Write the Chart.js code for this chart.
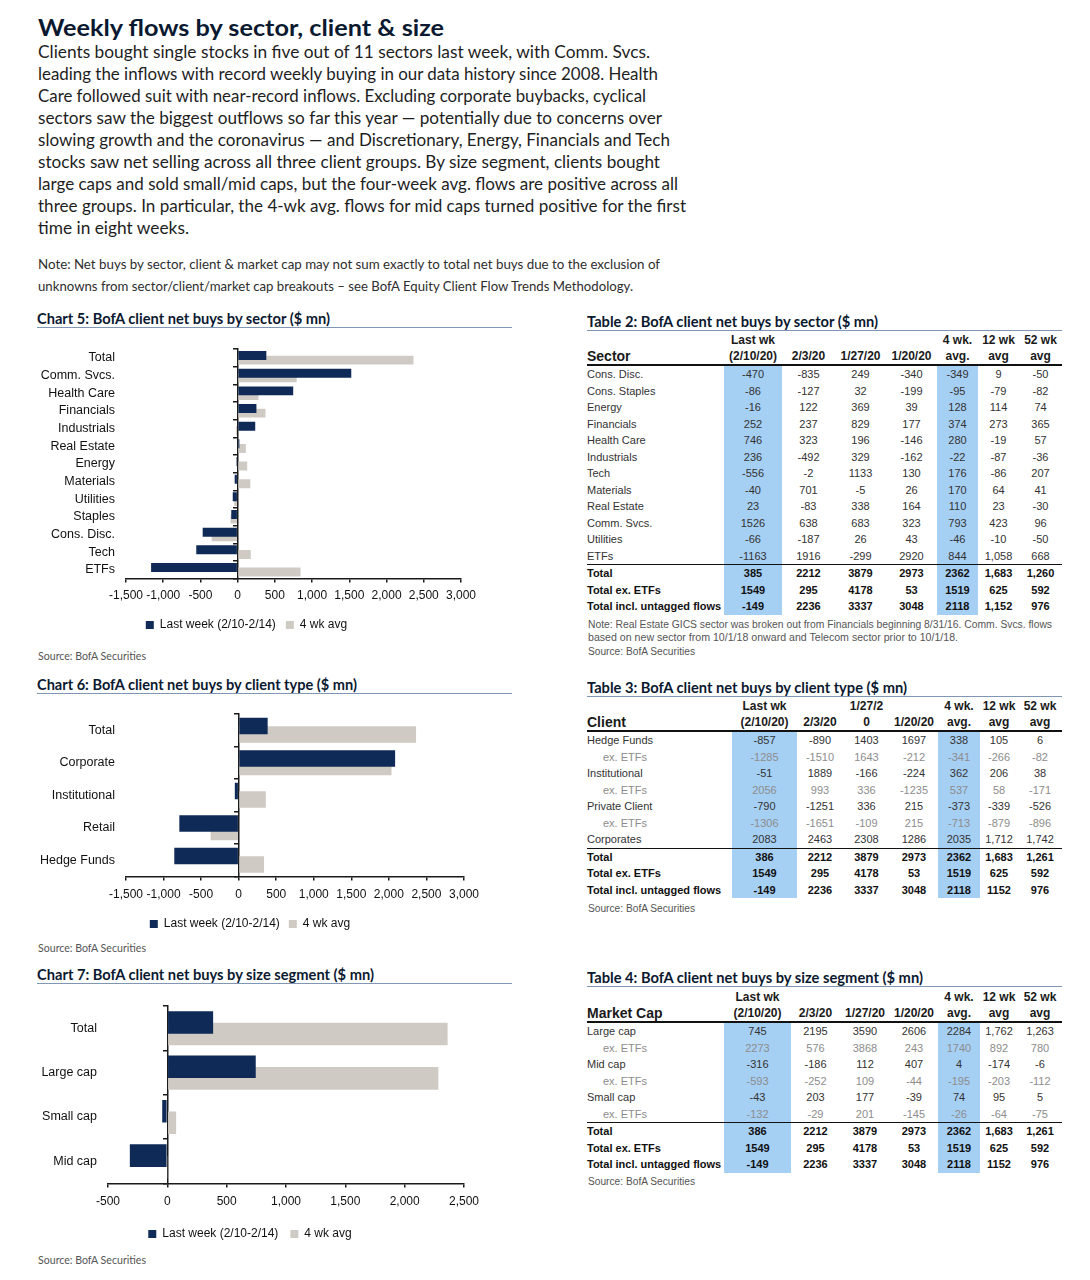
<!DOCTYPE html>
<html>
<head>
<meta charset="utf-8">
<script src="https://cdn.jsdelivr.net/npm/chart.js@4.4.1/dist/chart.umd.min.js"></script>
<style>
  body { margin: 0; width: 1090px; height: 1280px; background: #fff; position: relative; overflow: hidden; font-family: Lato, "Open Sans", sans-serif; color: #1e1e1e; }
  .ln { position: absolute; white-space: nowrap; display: inline-block; transform-origin: 0 50%; }
  .h1 { left: 38px; font-weight: 700; font-size: 23px; line-height: 30px; color: #0b1930; }
  .txt { left: 38px; font-size: 17px; line-height: 22px; }
  .note { left: 38px; font-size: 12.5px; line-height: 18px; color: #2e2e2e; }
  .head { position: absolute; height: 16px; border-bottom: 1.5px solid #7f96b4; }
  .head span { font-weight: 700; font-size: 14.5px; line-height: 16px; color: #0b1930; }
  .src { font-size: 11px; line-height: 14px; color: #555; }
  .tnote { left: 588px; font-family: "Liberation Sans", Arial, sans-serif; font-size: 10px; line-height: 13px; color: #555; }
  canvas { position: absolute; }
  table { position: absolute; left: 587px; width: 475px; border-collapse: collapse; table-layout: fixed; font-family: "Liberation Sans", Arial, sans-serif; }
  td { padding: 0; text-align: center; white-space: nowrap; overflow: visible; }
  tr.h td { height: 16px; font-weight: 700; font-size: 12px; color: #1a1a1a; vertical-align: middle; }
  tr.h td.lab { font-size: 14px; text-align: left; }
  tr.hb td { border-bottom: 2px solid #111; }
  tr.r td { height: 16.5px; font-size: 11px; color: #333; }
  tr.s td { height: 16.5px; font-size: 11px; color: #8c8c8c; }
  tr.t td { height: 16.5px; font-size: 11px; font-weight: 700; color: #111; }
  tr.last td { border-bottom: 1.5px solid #111; }
  td.lab { text-align: left; }
  tr.s td.lab { padding-left: 16px; }
  td.hl { background: #a6cff4; }
</style>
</head>
<body>

<div class="ln h1" style="top:12px" data-w="406">Weekly flows by sector, client &amp; size</div>
<div class="ln txt" style="top:41px" data-w="612">Clients bought single stocks in five out of 11 sectors last week, with Comm. Svcs.</div>
<div class="ln txt" style="top:63px" data-w="620">leading the inflows with record weekly buying in our data history since 2008. Health</div>
<div class="ln txt" style="top:85px" data-w="608">Care followed suit with near-record inflows. Excluding corporate buybacks, cyclical</div>
<div class="ln txt" style="top:107px" data-w="624">sectors saw the biggest outflows so far this year — potentially due to concerns over</div>
<div class="ln txt" style="top:129px" data-w="632">slowing growth and the coronavirus — and Discretionary, Energy, Financials and Tech</div>
<div class="ln txt" style="top:151px" data-w="622">stocks saw net selling across all three client groups. By size segment, clients bought</div>
<div class="ln txt" style="top:173px" data-w="640">large caps and sold small/mid caps, but the four-week avg. flows are positive across all</div>
<div class="ln txt" style="top:195px" data-w="648">three groups. In particular, the 4-wk avg. flows for mid caps turned positive for the first</div>
<div class="ln txt" style="top:217px" data-w="151">time in eight weeks.</div>

<div class="ln note" style="top:256px" data-w="622">Note: Net buys by sector, client &amp; market cap may not sum exactly to total net buys due to the exclusion of</div>
<div class="ln note" style="top:278px" data-w="595">unknowns from sector/client/market cap breakouts – see BofA Equity Client Flow Trends Methodology.</div>

<div class="head" style="left:37px;top:311px;width:475px"><span class="ln" data-w="293">Chart 5: BofA client net buys by sector ($ mn)</span></div>
<canvas id="chart5" width="452" height="301" style="left:30px;top:340px"></canvas>
<div class="ln src" style="left:38px;top:649px" data-w="108">Source: BofA Securities</div>

<div class="head" style="left:37px;top:677px;width:475px"><span class="ln" data-w="320">Chart 6: BofA client net buys by client type ($ mn)</span></div>
<canvas id="chart6" width="456" height="235" style="left:30px;top:705px"></canvas>
<div class="ln src" style="left:38px;top:941px" data-w="108">Source: BofA Securities</div>

<div class="head" style="left:37px;top:967px;width:475px"><span class="ln" data-w="337">Chart 7: BofA client net buys by size segment ($ mn)</span></div>
<canvas id="chart7" width="456" height="253" style="left:30px;top:997px"></canvas>
<div class="ln src" style="left:38px;top:1253px" data-w="108">Source: BofA Securities</div>

<div class="head" style="left:587px;top:314px;width:475px"><span class="ln" data-w="291">Table 2: BofA client net buys by sector ($ mn)</span></div>
<table id="table2" style="top:332px"></table>
<div class="ln tnote" style="top:618px" data-w="464">Note: Real Estate GICS sector was broken out from Financials beginning 8/31/16. Comm. Svcs. flows</div>
<div class="ln tnote" style="top:631px" data-w="370">based on new sector from 10/1/18 onward and Telecom sector prior to 10/1/18.</div>
<div class="ln tnote" style="top:645px" data-w="107">Source: BofA Securities</div>

<div class="head" style="left:587px;top:680px;width:475px"><span class="ln" data-w="320">Table 3: BofA client net buys by client type ($ mn)</span></div>
<table id="table3" style="top:698px"></table>
<div class="ln tnote" style="top:902px" data-w="107">Source: BofA Securities</div>

<div class="head" style="left:587px;top:970px;width:475px"><span class="ln" data-w="336">Table 4: BofA client net buys by size segment ($ mn)</span></div>
<table id="table4" style="top:989px"></table>
<div class="ln tnote" style="top:1175px" data-w="107">Source: BofA Securities</div>

<script>
// chart data
const legendLabels = ["Last week (2/10-2/14)", "4 wk avg"];

const sectorLabels = ["Total", "Comm. Svcs.", "Health Care", "Financials", "Industrials", "Real Estate", "Energy", "Materials", "Utilities", "Staples", "Cons. Disc.", "Tech", "ETFs"];
const sectorLastWeek = [385, 1526, 746, 252, 236, 23, -16, -40, -66, -86, -470, -556, -1163];
const sector4wkAvg = [2362, 793, 280, 374, -22, 110, 128, 170, -46, -95, -349, 176, 844];

const clientLabels = ["Total", "Corporate", "Institutional", "Retail", "Hedge Funds"];
const clientLastWeek = [386, 2083, -51, -790, -857];
const client4wkAvg = [2362, 2035, 362, -373, 338];

const sizeLabels = ["Total", "Large cap", "Small cap", "Mid cap"];
const sizeLastWeek = [386, 745, -43, -316];
const size4wkAvg = [2362, 2284, 74, 4];

// table data
const headTop = ["", "Last wk", "", "", "", "4 wk.", "12 wk", "52 wk"];
const headTop3 = ["", "Last wk", "", "1/27/2", "", "4 wk.", "12 wk", "52 wk"];
const head2 = ["Sector", "(2/10/20)", "2/3/20", "1/27/20", "1/20/20", "avg.", "avg", "avg"];
const head3 = ["Client", "(2/10/20)", "2/3/20", "0", "1/20/20", "avg.", "avg", "avg"];
const head4 = ["Market Cap", "(2/10/20)", "2/3/20", "1/27/20", "1/20/20", "avg.", "avg", "avg"];

const t2Rows = [
  ["Cons. Disc.", "-470", "-835", "249", "-340", "-349", "9", "-50"],
  ["Cons. Staples", "-86", "-127", "32", "-199", "-95", "-79", "-82"],
  ["Energy", "-16", "122", "369", "39", "128", "114", "74"],
  ["Financials", "252", "237", "829", "177", "374", "273", "365"],
  ["Health Care", "746", "323", "196", "-146", "280", "-19", "57"],
  ["Industrials", "236", "-492", "329", "-162", "-22", "-87", "-36"],
  ["Tech", "-556", "-2", "1133", "130", "176", "-86", "207"],
  ["Materials", "-40", "701", "-5", "26", "170", "64", "41"],
  ["Real Estate", "23", "-83", "338", "164", "110", "23", "-30"],
  ["Comm. Svcs.", "1526", "638", "683", "323", "793", "423", "96"],
  ["Utilities", "-66", "-187", "26", "43", "-46", "-10", "-50"],
  ["ETFs", "-1163", "1916", "-299", "2920", "844", "1,058", "668"]
];
const t2Totals = [
  ["Total", "385", "2212", "3879", "2973", "2362", "1,683", "1,260"],
  ["Total ex. ETFs", "1549", "295", "4178", "53", "1519", "625", "592"],
  ["Total incl. untagged flows", "-149", "2236", "3337", "3048", "2118", "1,152", "976"]
];

const t3Rows = [
  ["Hedge Funds", "-857", "-890", "1403", "1697", "338", "105", "6"],
  ["ex. ETFs", "-1285", "-1510", "1643", "-212", "-341", "-266", "-82"],
  ["Institutional", "-51", "1889", "-166", "-224", "362", "206", "38"],
  ["ex. ETFs", "2056", "993", "336", "-1235", "537", "58", "-171"],
  ["Private Client", "-790", "-1251", "336", "215", "-373", "-339", "-526"],
  ["ex. ETFs", "-1306", "-1651", "-109", "215", "-713", "-879", "-896"],
  ["Corporates", "2083", "2463", "2308", "1286", "2035", "1,712", "1,742"]
];
const t3Totals = [
  ["Total", "386", "2212", "3879", "2973", "2362", "1,683", "1,261"],
  ["Total ex. ETFs", "1549", "295", "4178", "53", "1519", "625", "592"],
  ["Total incl. untagged flows", "-149", "2236", "3337", "3048", "2118", "1152", "976"]
];

const t4Rows = [
  ["Large cap", "745", "2195", "3590", "2606", "2284", "1,762", "1,263"],
  ["ex. ETFs", "2273", "576", "3868", "243", "1740", "892", "780"],
  ["Mid cap", "-316", "-186", "112", "407", "4", "-174", "-6"],
  ["ex. ETFs", "-593", "-252", "109", "-44", "-195", "-203", "-112"],
  ["Small cap", "-43", "203", "177", "-39", "74", "95", "5"],
  ["ex. ETFs", "-132", "-29", "201", "-145", "-26", "-64", "-75"]
];
const t4Totals = t3Totals;

const NAVY = "#0f2a57";
const GRAY = "#d0cac4";
const AXIS = "#1a1a1a";
const ARIAL = "'Liberation Sans', Arial, sans-serif";

function buildTable(id, widths, top1, top2, rows, totals) {
  const t = document.getElementById(id);
  let html = "<colgroup>" + widths.map(w => '<col style="width:' + w + 'px">').join("") + "</colgroup>";
  html += '<tr class="h">' + top1.map((c, i) => '<td' + (i === 0 ? ' class="lab"' : '') + '>' + c + '</td>').join("") + "</tr>";
  html += '<tr class="h hb">' + top2.map((c, i) => '<td' + (i === 0 ? ' class="lab"' : '') + '>' + c + '</td>').join("") + "</tr>";
  const cell = (c, i) => '<td class="' + (i === 0 ? 'lab' : (i === 1 || i === 5 ? 'hl' : '')) + '">' + c + '</td>';
  rows.forEach((r, k) => {
    let cls = r[0] === "ex. ETFs" ? "s" : "r";
    if (k === rows.length - 1) cls += " last";
    html += '<tr class="' + cls + '">' + r.map(cell).join("") + "</tr>";
  });
  totals.forEach(r => { html += '<tr class="t">' + r.map(cell).join("") + "</tr>"; });
  t.innerHTML = html;
}

buildTable("table2", [137, 58, 53, 51, 51, 41, 41, 43], headTop, head2, t2Rows, t2Totals);
buildTable("table3", [145, 65, 46, 47, 48, 42, 38, 44], headTop3, head3, t3Rows, t3Totals);
buildTable("table4", [137, 67, 49, 50, 48, 42, 38, 44], headTop, head4, t4Rows, t4Totals);

function barChart(id, labels, lastWeek, avg, xMin, xMax, yWidth, padRight, tickPad, legendPad) {
  return new Chart(document.getElementById(id), {
    type: 'bar',
    data: {
      labels: labels,
      datasets: [
        { label: legendLabels[0], data: lastWeek, backgroundColor: NAVY, categoryPercentage: 0.52, barPercentage: 1.95 },
        { label: legendLabels[1], data: avg, backgroundColor: GRAY, categoryPercentage: 0.52, barPercentage: 1.95 }
      ]
    },
    options: {
      indexAxis: 'y',
      responsive: false,
      animation: false,
      layout: { padding: { top: 9, right: padRight, left: 0, bottom: 0 } },
      plugins: {
        legend: {
          position: 'bottom',
          labels: { boxWidth: 8, boxHeight: 8, padding: legendPad, color: '#111', font: { family: ARIAL, size: 12 } }
        },
        tooltip: { enabled: false }
      },
      scales: {
        x: {
          min: xMin, max: xMax,
          ticks: { stepSize: 500, padding: tickPad, maxRotation: 0, minRotation: 0, autoSkip: false,
                   color: '#111', font: { family: ARIAL, size: 12 },
                   callback: v => v.toLocaleString('en-US') },
          grid: { drawOnChartArea: false, tickColor: AXIS, tickLength: 4, lineWidth: 1.5 },
          border: { color: AXIS, width: 1.5 }
        },
        y: {
          ticks: { padding: 0, autoSkip: false, color: '#111', font: { family: ARIAL, size: 12.5 } },
          grid: { display: false, drawTicks: true, tickLength: 11 },
          border: { display: false },
          afterFit: s => { s.width = yWidth; }
        },
        y2: {
          axis: 'y', type: 'category', position: { x: 0 }, offset: true, z: 1,
          ticks: { display: false },
          grid: { drawOnChartArea: false, offset: true, color: AXIS, tickLength: 4, lineWidth: 1.5 },
          border: { color: AXIS, width: 1.5 }
        }
      }
    }
  });
}

barChart("chart5", sectorLabels, sectorLastWeek, sector4wkAvg, -1500, 3000, 96, 19, 6, 10);
barChart("chart6", clientLabels, clientLastWeek, client4wkAvg, -1500, 3000, 96, 16, 7, 9);
barChart("chart7", sizeLabels, sizeLastWeek, size4wkAvg, -500, 2500, 78, 16, 7, 12);

// squeeze text lines to the widths they have in the report
document.querySelectorAll('[data-w]').forEach(el => {
  const w = el.getBoundingClientRect().width;
  if (w > 0) el.style.transform = 'scaleX(' + (el.dataset.w / w) + ')';
});
</script>
</body>
</html>
